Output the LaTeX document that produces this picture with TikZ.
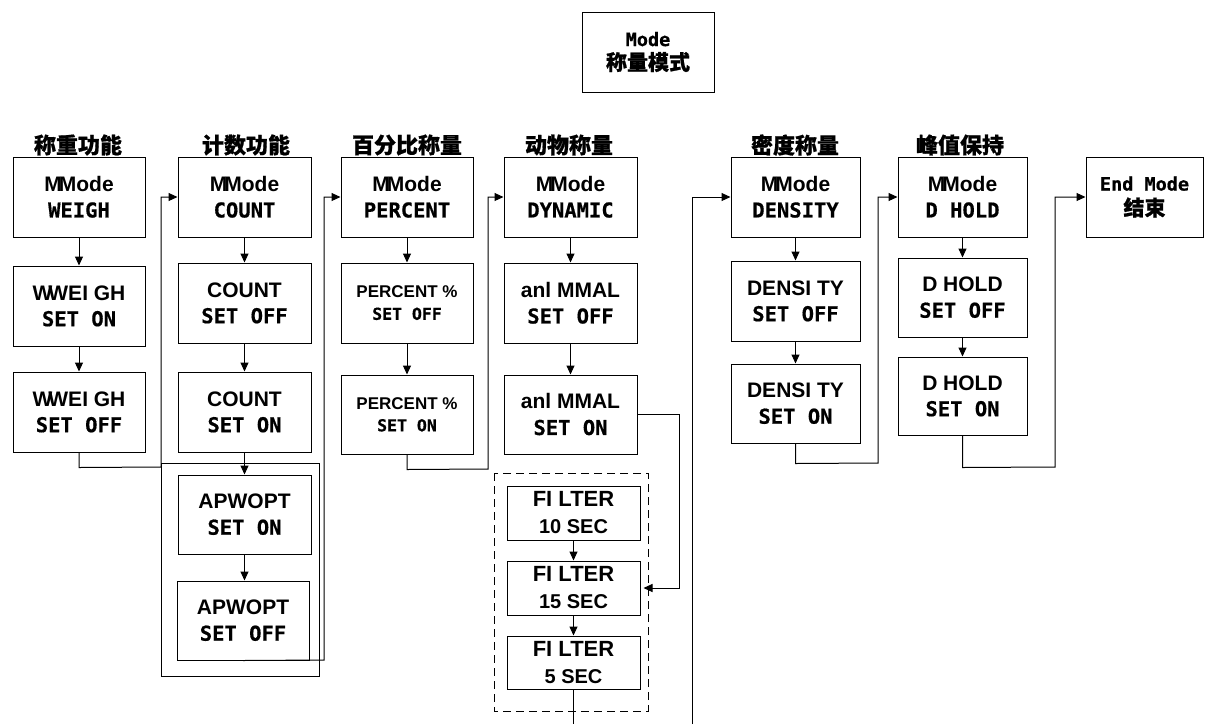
\documentclass[tikz,border=0pt]{standalone}
\usepackage{fontspec}
\usetikzlibrary{arrows.meta,calc}
\newfontfamily\fmono{DejaVu Sans Mono}[BoldFeatures={FakeBold=0.6}]
\newfontfamily\fprop{Liberation Sans}
\newfontfamily\fcjk{Noto Sans CJK SC}[BoldFeatures={FakeBold=0.8}]
\newcommand\txm[1]{{\fmono\bfseries\fontsize{20.5}{26}\selectfont #1}}
\newcommand\txp[1]{{\fprop\bfseries\fontsize{21}{26}\selectfont #1}}
\newcommand\txmm{{\fprop\bfseries\fontsize{21}{26}\selectfont M\kern-3pt Mode}}
\newcommand\txsm[1]{{\fmono\bfseries\fontsize{16.5}{22}\selectfont #1}}
\newcommand\txsp[1]{{\fprop\bfseries\fontsize{17}{22}\selectfont #1}}
\newcommand\txc[1]{{\fcjk\bfseries\fontsize{21}{24}\selectfont #1}}
\newcommand\txww{{\fprop\bfseries\fontsize{21}{26}\selectfont W\kern-4pt WEI GH}}
\tikzset{
  bx/.style={draw,line width=1pt,inner sep=0pt,align=center,minimum width=132pt,minimum height=80pt,font=\fontsize{20}{26}\selectfont},
  fbx/.style={bx,minimum height=54pt,font=\fontsize{21}{27}\selectfont},
  pbx/.style={bx,font=\fontsize{17}{22}\selectfont},
  hd/.style={inner sep=0pt,font=\fcjk\bfseries\fontsize{22}{24}\selectfont},
  arr/.style={line width=1pt,-{Triangle[length=9pt,width=8pt]}},
  ln/.style={line width=1pt}
}
\begin{document}
\begin{tikzpicture}[x=1pt,y=-1pt]
\useasboundingbox (0,0) rectangle (1218,724);
% top
\node[bx,font=\fontsize{19}{24}\selectfont] (top) at (648,52) {{\fmono\bfseries\fontsize{18.5}{24}\selectfont Mode}\\\txc{称量模式}};
% headers
\node[hd] (h1t) at (78,145) {称重功能};
\node[hd] (h2t) at (246,145) {计数功能};
\node[hd] (h3t) at (407,145) {百分比称量};
\node[hd] (h4t) at (569,145) {动物称量};
\node[hd] (h5t) at (795,145) {密度称量};
\node[hd] (h6t) at (960,145) {峰值保持};
% column 1
\node[bx] (w1) at (79,197) {\txmm\\\txm{WEIGH}};
\node[bx] (w2) at (79,306) {\txww\\\txm{SET ON}};
\node[bx] (w3) at (79,412) {\txww\\\txm{SET OFF}};
% column 2
\node[bx,minimum width=133pt] (c1) at (244.5,197) {\txmm\\\txm{COUNT}};
\node[bx,minimum width=133pt] (c2) at (244.5,303) {\txp{COUNT}\\\txm{SET OFF}};
\node[bx,minimum width=133pt] (c3) at (244.5,412) {\txp{COUNT}\\\txm{SET ON}};
\node[bx,minimum width=133pt,minimum height=79pt] (c4) at (244.5,514.5) {\txp{APWOPT}\\\txm{SET ON}};
\node[bx,minimum height=79pt] (c5) at (243,620.5) {\txp{APWOPT}\\\txm{SET OFF}};
\draw[ln] (161,463) rectangle (319,676);
% column 3
\node[bx] (p1) at (407,197) {\txmm\\\txm{PERCENT}};
\node[pbx] (p2) at (407,303) {\txsp{PERCENT \%}\\\txsm{SET OFF}};
\node[pbx,minimum height=79pt] (p3) at (407,414.5) {\txsp{PERCENT \%}\\\txsm{SET ON}};
% column 4
\node[bx,minimum width=133pt] (d1) at (570.5,197) {\txmm\\\txm{DYNAMIC}};
\node[bx,minimum width=133pt] (d2) at (570.5,303) {\txp{anl MMAL}\\\txm{SET OFF}};
\node[bx,minimum width=133pt,minimum height=79pt] (d3) at (570.5,414.5) {\txp{anl MMAL}\\\txm{SET ON}};
% filter group
\draw[ln,dash pattern=on 8pt off 5pt] (494,473) rectangle (648,711);
\node[fbx,minimum width=133pt] (f1) at (573.5,513) {{\fprop\bfseries\fontsize{22}{27}\selectfont FI LTER}\\{\fprop\bfseries\fontsize{20}{27}\selectfont 10 SEC}};
\node[fbx,minimum width=133pt] (f2) at (573.5,588) {{\fprop\bfseries\fontsize{22}{27}\selectfont FI LTER}\\{\fprop\bfseries\fontsize{20}{27}\selectfont 15 SEC}};
\node[fbx,minimum width=133pt,minimum height=53pt] (f3) at (573.5,662.5) {{\fprop\bfseries\fontsize{22}{27}\selectfont FI LTER}\\{\fprop\bfseries\fontsize{20}{27}\selectfont 5 SEC}};
% column 5
\node[bx,minimum width=129pt] (s1) at (795.5,197) {\txmm\\\txm{DENSITY}};
\node[bx,minimum width=129pt] (s2) at (795.5,301) {\txp{DENSI TY}\\\txm{SET OFF}};
\node[bx,minimum width=129pt,minimum height=79pt] (s3) at (795.5,403.5) {\txp{DENSI TY}\\\txm{SET ON}};
% column 6
\node[bx,minimum width=129pt] (k1) at (962.5,197) {\txmm\\\txm{D HOLD}};
\node[bx,minimum width=129pt,minimum height=79pt] (k2) at (962.5,297.5) {\txp{D HOLD}\\\txm{SET OFF}};
\node[bx,minimum width=129pt,minimum height=78pt] (k3) at (962.5,396) {\txp{D HOLD}\\\txm{SET ON}};
% end
\node[bx,minimum width=117pt,font=\fontsize{19}{25}\selectfont] (e1) at (1144.5,197) {{\fmono\bfseries\fontsize{18.5}{25}\selectfont End Mode}\\\txc{结束}};
% vertical arrows
\draw[arr] (w1.south) -- (w2.north);
\draw[arr] (w2.south) -- (w3.north);
\draw[arr] (c1.south) -- (c2.north);
\draw[arr] (c2.south) -- (c3.north);
\draw[arr] (c3.south) -- (c4.north);
\draw[arr] (c4.south) -- (c4.south |- c5.north);
\draw[arr] (p1.south) -- (p2.north);
\draw[arr] (p2.south) -- (p3.north);
\draw[arr] (d1.south) -- (d2.north);
\draw[arr] (d2.south) -- (d3.north);
\draw[arr] (f1.south) -- (f2.north);
\draw[arr] (f2.south) -- (f3.north);
\draw[arr] (s1.south) -- (s2.north);
\draw[arr] (s2.south) -- (s3.north);
\draw[arr] (k1.south) -- (k2.north);
\draw[arr] (k2.south) -- (k3.north);
% connectors between columns
\draw[arr] (w3.south) -- ++(0,15) -- (161,467) |- (c1.west);
\draw[arr] (c5.south) -- (324,660) |- (p1.west);
\draw[arr] (p3.south) -- ++(0,15) -- (488,469) |- (d1.west);
\draw[arr] (d3.east) -| (679,588) -- ([xshift=3pt]f2.east);
\coordinate (fo) at (573.5,724);
\draw[ln] (f3.south) -- (fo);
\coordinate (lo) at (692,724);
\draw[arr] (lo) |- (s1.west);
\draw[arr] (s3.south) -- ++(0,20) -- (878,463) |- (k1.west);
\draw[arr] (k3.south) -- ++(0,32) -- (1055,467) |- (e1.west);
\end{tikzpicture}
\end{document}
